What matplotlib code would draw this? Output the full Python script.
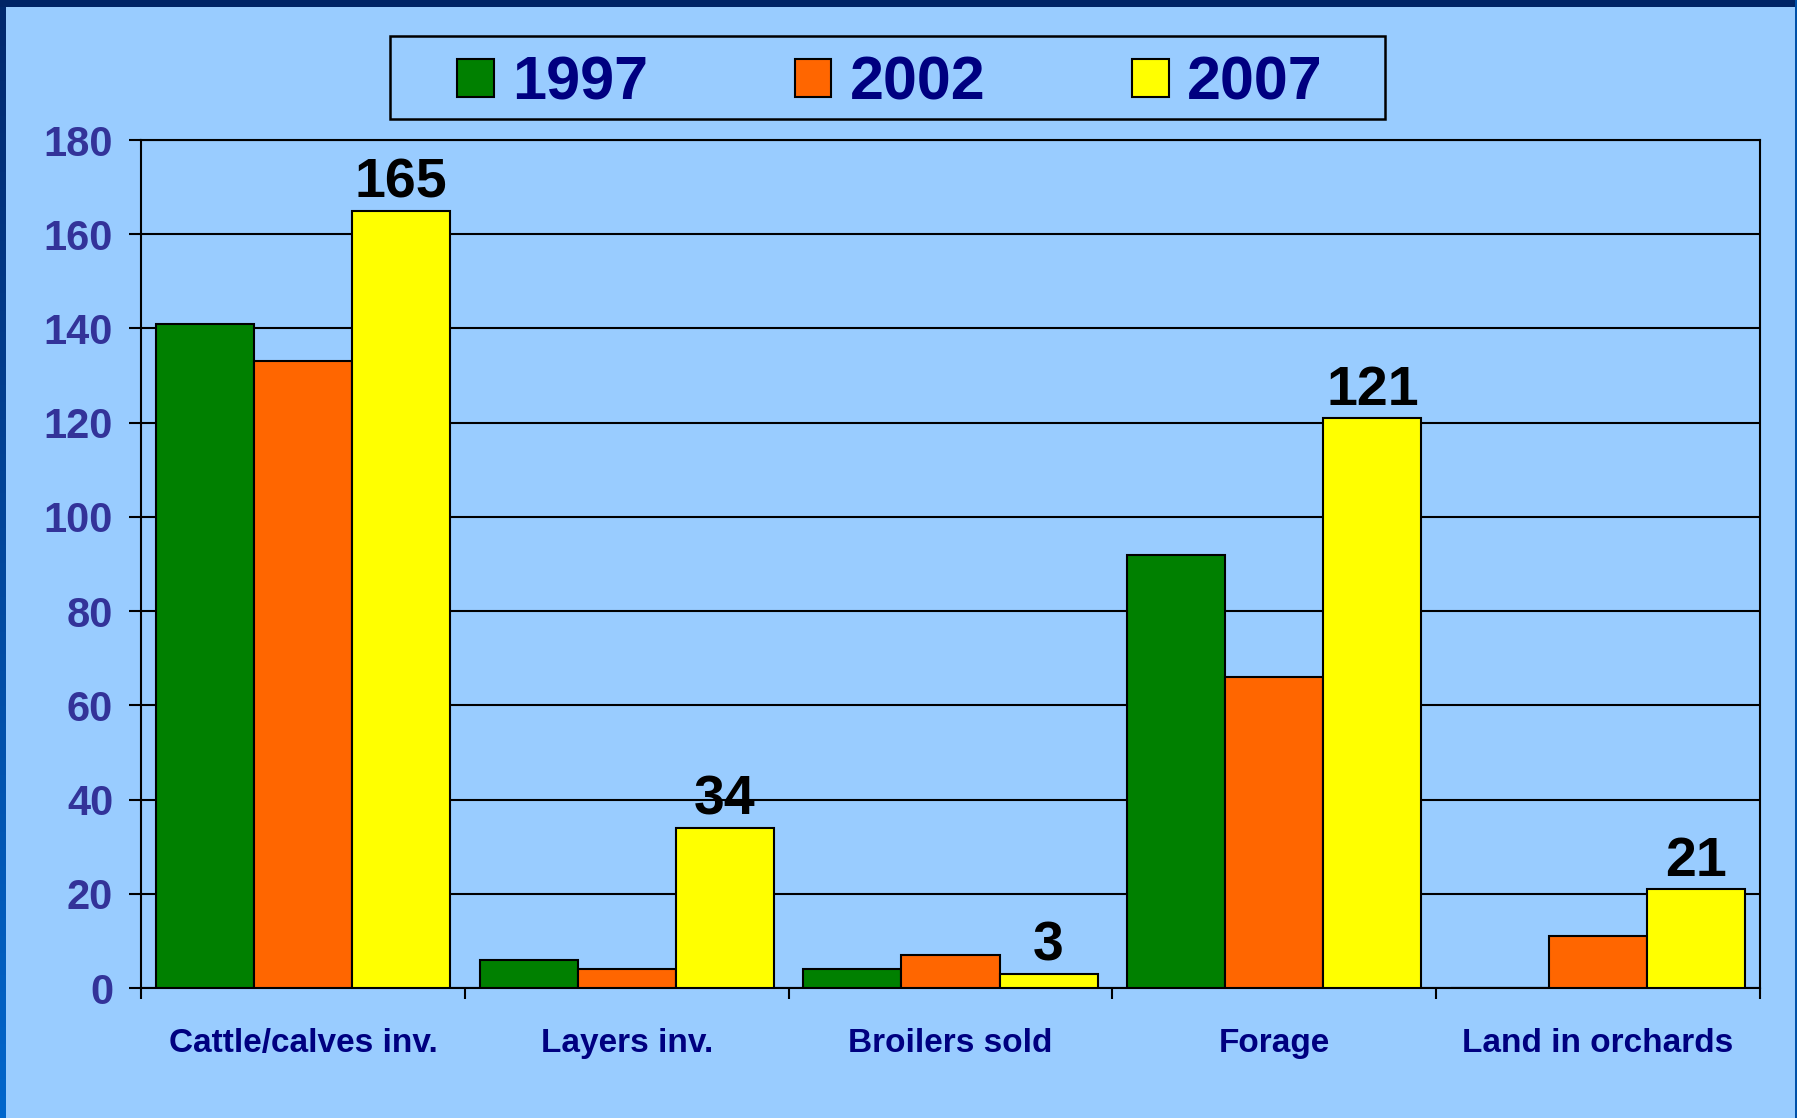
import numpy as np
import matplotlib
matplotlib.use("Agg")
import matplotlib.pyplot as plt
from matplotlib.patches import Rectangle, Patch

plt.rcParams["font.family"] = ["Liberation Sans", "DejaVu Sans"]
plt.rcParams["font.weight"] = "bold"

categories = ["Cattle/calves inv.", "Layers inv.", "Broilers sold", "Forage", "Land in orchards"]
years = ["1997", "2002", "2007"]
v1997 = [141, 6, 4, 92, 0]
v2002 = [133, 4, 7, 66, 11]
v2007 = [165, 34, 3, 121, 21]
colors = ["#008000", "#FF6600", "#FFFF00"]

bg = "#99CCFF"

fig = plt.figure(figsize=(17.97, 11.18), dpi=100, facecolor=bg)

# decorative frame of the slide
fig.patches.append(Rectangle((0, 1 - 7 / 1118), 1, 7 / 1118, transform=fig.transFigure,
                             facecolor="#002466", edgecolor="none", zorder=0))
strip = fig.add_axes([0, 0, 6 / 1797, 1 - 7 / 1118])
grad = np.linspace(0, 1, 256).reshape(-1, 1)
strip.imshow(grad, aspect="auto", cmap=matplotlib.colors.LinearSegmentedColormap.from_list(
    "edge", ["#0066CC", "#00286E"]), origin="lower")
strip.set_axis_off()
fig.patches.append(Rectangle((1 - 2 / 1797, 0), 2 / 1797, 1, transform=fig.transFigure,
                             facecolor="#0050A8", edgecolor="none", zorder=0))

ax = fig.add_axes([141 / 1797, 1 - 988 / 1118, (1760 - 141) / 1797, (988 - 140) / 1118])
ax.set_facecolor(bg)

x = np.arange(len(categories))
w = 0.303
series = [v1997, v2002, v2007]
bars = []
for i, (vals, c, yr) in enumerate(zip(series, colors, years)):
    b = ax.bar(x + (i - 1) * w, vals, w, color=c, edgecolor="black", linewidth=1.5,
               label=yr, zorder=3)
    bars.append(b)

# value labels on the 2007 bars only
for rect, v in zip(bars[2], v2007):
    ax.annotate(str(v), (rect.get_x() + rect.get_width() / 2, rect.get_height()),
                xytext=(0, 1), textcoords="offset points", ha="center", va="bottom",
                fontsize=40, fontweight="bold", color="black", zorder=4)

ax.set_xlim(-0.5, len(categories) - 0.5)
ax.set_ylim(0, 180)
ax.set_yticks(np.arange(0, 181, 20))
ax.yaxis.grid(True, color="black", linewidth=1.5, zorder=0)
ax.set_axisbelow(True)

ax.set_xticks(x)
ax.set_xticklabels(categories)
ax.set_xticks(np.arange(-0.5, len(categories)), minor=True)
ax.tick_params(axis="x", which="major", length=0, pad=29, labelsize=24,
               labelcolor="#000080")
ax.tick_params(axis="x", which="minor", length=8, width=1.5, direction="out", color="black")
ax.tick_params(axis="y", length=9, width=1.5, direction="out", pad=11, labelsize=30,
               labelcolor="#333399")
for lbl in ax.get_xticklabels() + ax.get_yticklabels():
    lbl.set_fontweight("bold")

for s in ax.spines.values():
    s.set_color("black")
    s.set_linewidth(1.5)

# legend box
fig.patches.append(Rectangle((390 / 1797, 1 - 119 / 1118), (1385 - 390) / 1797, 83 / 1118,
                             transform=fig.transFigure, facecolor="none",
                             edgecolor="black", linewidth=1.8, zorder=5))
handles = [Patch(facecolor=c, edgecolor="black", linewidth=1.5) for c in colors]
leg = fig.legend(handles, years, loc="center", bbox_to_anchor=(890 / 1797, 1 - 84 / 1118),
                 ncol=3, frameon=False, fontsize=44, handlelength=0.6, handleheight=0.6,
                 handletextpad=0.3, columnspacing=2.4, borderpad=0.1)
for t in leg.get_texts():
    t.set_color("#000080")
    t.set_fontweight("bold")

fig.savefig("out.png", dpi=100, facecolor=bg)
